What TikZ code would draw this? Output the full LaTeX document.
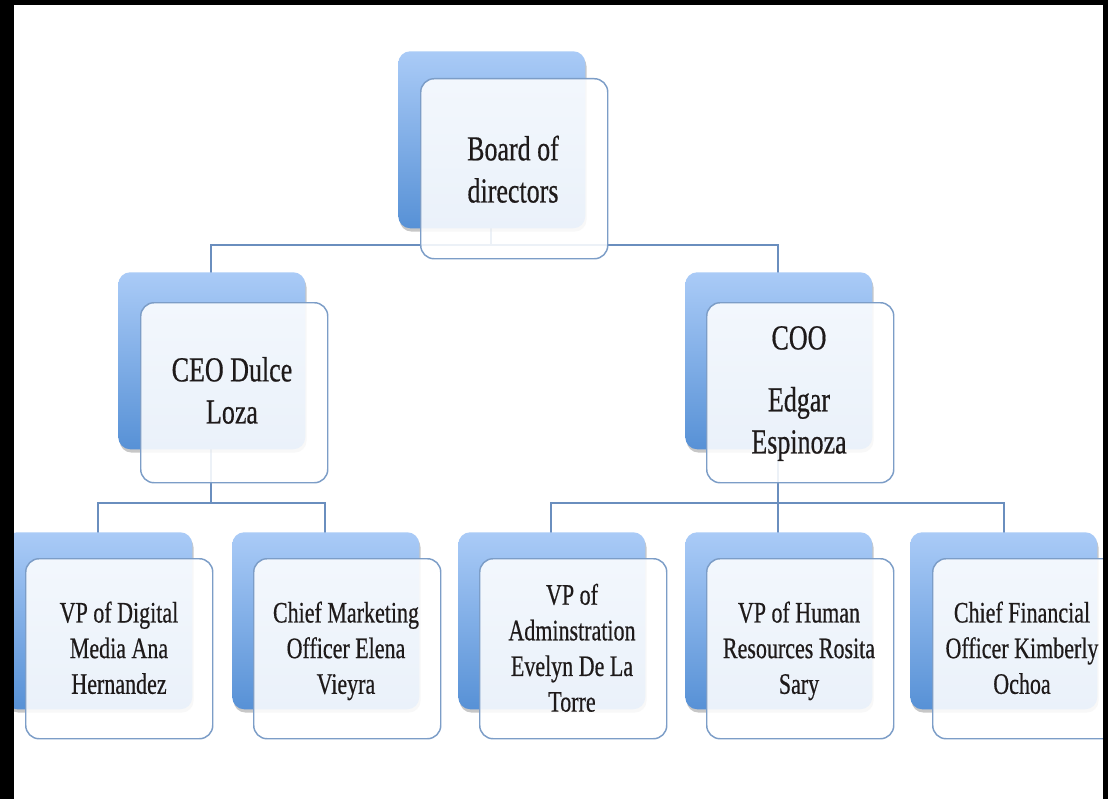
\documentclass[tikz,border=0pt]{standalone}
\usepackage{fontspec}
\setmainfont[FakeBold=0.6]{Liberation Serif}
\usetikzlibrary{shadows}
\definecolor{linec}{HTML}{6A8EBE}
\definecolor{backtop}{HTML}{AACBF7}
\definecolor{backbot}{HTML}{5791D6}
\definecolor{frontdraw}{HTML}{7C9DC7}
\definecolor{textc}{HTML}{1E1A1A}
\newcommand{\toptxt}[1]{\scalebox{1}[1.35]{\fontsize{19.5}{23.4}\selectfont\begin{tabular}{@{}c@{}}#1\end{tabular}}}
\newcommand{\bottxt}[1]{\scalebox{1}[1.35]{\fontsize{16.5}{19.8}\selectfont\begin{tabular}{@{}c@{}}#1\end{tabular}}}
\tikzset{
  backbox/.style={anchor=north west, rounded corners=9pt, top color=backtop, bottom color=backbot,
    minimum width=140.25pt, minimum height=132.75pt, inner sep=0pt,
    drop shadow={shadow xshift=1pt, shadow yshift=-2.5pt, opacity=0.22, fill=black}},
  frontbox/.style={anchor=north west, draw=frontdraw, line width=1.1pt, fill=white, fill opacity=0.88,
    rounded corners=10pt, minimum width=140.25pt, minimum height=135pt, inner sep=0pt},
  lbl/.style={text=textc, inner sep=0pt, align=center},
  conn/.style={draw=linec, line width=1.4pt}
}
\begin{document}
\begin{tikzpicture}[x=0.75pt,y=-0.75pt]
\useasboundingbox (0,0) rectangle (1108,799);
\fill[white] (0,0) rectangle (1108,799);
\begin{scope}
\clip (0,0) rectangle (1108,799);
% junction and connector end coordinates
\coordinate (j1) at (491,245);
\coordinate (j2) at (211,503);
\coordinate (j3) at (778,503);
\coordinate (bc) at (491,200);
\coordinate (ceoc) at (211,300);
\coordinate (cooc) at (778,300);
\coordinate (c1) at (98,560);
\coordinate (c2) at (325,560);
\coordinate (c3) at (551,560);
\coordinate (c4) at (778,560);
\coordinate (c5) at (1004,560);
% connectors
\draw[conn] (bc) -- (j1);
\draw[conn] (ceoc) |- (j1) -| (cooc);
\draw[conn] (ceoc) -- (j2);
\draw[conn] (cooc) -- (j3);
\draw[conn] (c1) |- (j2) -| (c2);
\draw[conn] (c3) |- (j3) -| (c5);
\draw[conn] (j3) -- (c4);
% back boxes
\node[backbox] (boardb) at (398,51) {};
\node[backbox] (ceob) at (118,272) {};
\node[backbox] (coob) at (685,272) {};
\node[backbox] (vpdb) at (5,532) {};
\node[backbox] (cmob) at (232,532) {};
\node[backbox] (vpab) at (458,532) {};
\node[backbox] (vphb) at (685,532) {};
\node[backbox] (cfob) at (910,532) {};
% front boxes
\node[frontbox] (boardf) at (420,78) {};
\node[frontbox] (ceof) at (140,302) {};
\node[frontbox] (coof) at (706,302) {};
\node[frontbox] (vpdf) at (25,558) {};
\node[frontbox] (cmof) at (253,558) {};
\node[frontbox] (vpaf) at (479,558) {};
\node[frontbox] (vphf) at (706,558) {};
\node[frontbox] (cfof) at (932,558) {};
% labels
\node[lbl] (boardt) at (513,173) {\toptxt{Board of\\directors}};
\node[lbl] (ceot) at (232,394) {\toptxt{CEO Dulce\\Loza}};
\node[lbl] (coot) at (799,393) {\toptxt{COO\\[11pt]Edgar\\Espinoza}};
\node[lbl] (vpdt) at (119,651) {\bottxt{VP of Digital\\Media Ana\\Hernandez}};
\node[lbl] (cmot) at (346,651) {\bottxt{Chief Marketing\\Officer Elena\\Vieyra}};
\node[lbl] (vpat) at (572,651) {\bottxt{VP of\\Adminstration\\Evelyn De La\\Torre}};
\node[lbl] (vpht) at (799,651) {\bottxt{VP of Human\\Resources Rosita\\Sary}};
\node[lbl] (cfot) at (1022,651) {\bottxt{Chief Financial\\Officer Kimberly\\Ochoa}};
\end{scope}
% black frame
\fill[black] (0,0) rectangle (1108,5);
\fill[black] (0,0) rectangle (14,799);
\fill[black] (1103,0) rectangle (1108,799);
\end{tikzpicture}
\end{document}
